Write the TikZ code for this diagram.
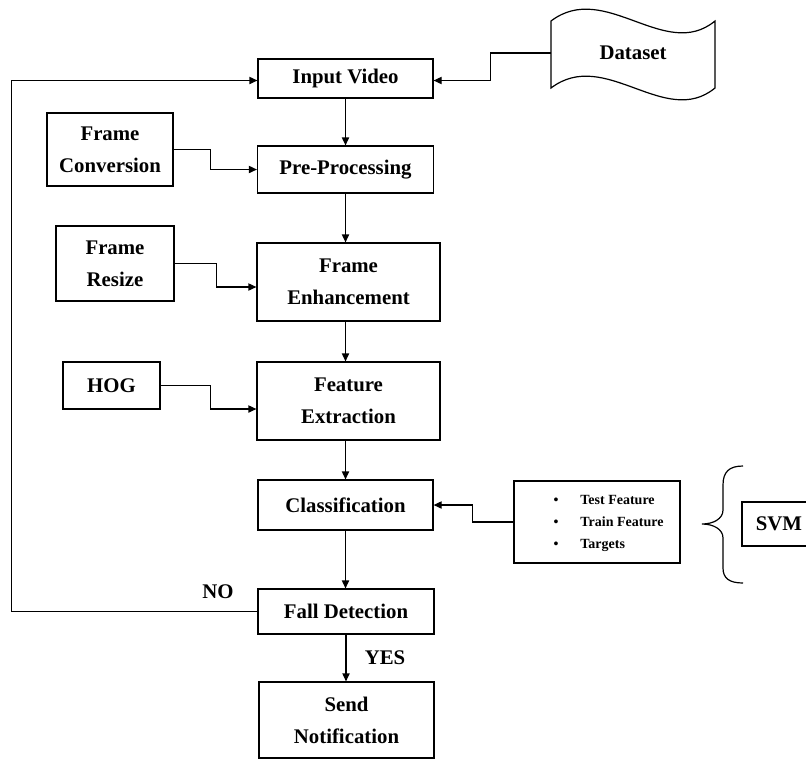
\documentclass[tikz,border=0pt]{standalone}
\usepackage{fontspec}
\setmainfont{Liberation Serif}
\usepackage{tikz}
\usetikzlibrary{arrows.meta}
\tikzset{>={Triangle[length=4pt,width=3.6pt]}}
\tikzset{blk/.style={draw, line width=0.6pt, align=center, inner sep=1pt, font=\fontsize{10.4}{16}\selectfont\bfseries},
         lbl/.style={font=\fontsize{10.4}{16}\selectfont\bfseries},
         line/.style={line width=0.6pt}}

\begin{document}
\begin{tikzpicture}[x=0.5pt, y=-0.5pt]
		 \useasboundingbox (0,0) rectangle (806,761);
		 % main column
		 \node[blk, minimum width=87.5pt, minimum height=19.5pt] (InputVideo) at (345.5,78.5) {Input Video};
		 \node[blk, minimum width=88pt, minimum height=23.5pt] (PreProc) at (345.5,169.5) {Pre-Processing};
		 \node[blk, minimum width=91.5pt, minimum height=39pt] (FrameEnh) at (348.5,282) {Frame\\Enhancement};
		 \node[blk, minimum width=91.5pt, minimum height=39pt] (FeatExt) at (348.5,401) {Feature\\Extraction};
		 \node[blk, minimum width=87.5pt, minimum height=25pt] (Classif) at (345.5,505) {Classification};
		 \node[blk, minimum width=88pt, minimum height=22.5pt] (FallDet) at (346,611.5) {Fall Detection};
		 \node[blk, minimum width=87.5pt, minimum height=38pt] (SendNotif) at (346.5,720) {Send\\Notification};
		 
		 % side inputs
		 \node[blk, minimum width=63pt, minimum height=36.5pt] (FrameConv) at (110,149.5) {Frame\\Conversion};
		 \node[blk, minimum width=59pt, minimum height=37.5pt] (FrameResize) at (115,263.5) {Frame\\Resize};
		 \node[blk, minimum width=48.5pt, minimum height=23.5pt] (HOG) at (111.5,385.5) {HOG};
		 \node[blk, minimum width=83pt, minimum height=41pt, font=\fontsize{7}{11}\selectfont\bfseries] (feat) at (597,522)
		   {\begin{tabular}{@{\hspace{11.5pt}}l@{\hspace{11pt}}l@{}}\textbullet & Test Feature\\ \textbullet & Train Feature\\ \textbullet & Targets\end{tabular}};
		 \node[blk, minimum width=37pt, minimum height=22pt] (SVM) at (779,524) {SVM};
		 
		 % dataset (wavy)
		 \draw[line] (551,21) .. controls (605,-20) and (665,62) .. (715,21) -- (715,88) .. controls (665,129) and (605,47) .. (551,88) -- cycle;
		 \node[lbl, minimum width=82pt, minimum height=33.5pt] (data) at (633,53) {Dataset};
		 
		 % brace
		 \draw[line] (743,466) .. controls (729,466) and (723,472) .. (723,485) -- (723,510) .. controls (723,519) and (713,524) .. (702,524)
		   .. controls (713,524) and (723,529) .. (723,538) -- (723,568) .. controls (723,578) and (729,583) .. (743,583);
		 
		 % flow
		 \draw[->,line] (InputVideo.south) -- (InputVideo.south |- PreProc.north);
		 \draw[->,line] (PreProc.south) -- (PreProc.south |- FrameEnh.north);
		 \draw[->,line] (FrameEnh.south -| Classif.north) -- (FeatExt.north -| Classif.north);
		 \draw[->,line] (FeatExt.south -| Classif.north) -- (Classif.north);
		 \draw[->,line] (Classif.south) -- (Classif.south |- FallDet.north);
		 \draw[->,line] (FallDet.south) -- (FallDet.south |- SendNotif.north);
		 
		 \draw[->,line] (FrameConv.east) -- ++(37,0) |- (PreProc.west);
		 \draw[->,line] (FrameResize.east) -- ++(42,0) |- ([yshift=-2.5pt]FrameEnh.west);
		 \draw[->,line] (HOG.east) -- ++(50,0) |- ([yshift=-4pt]FeatExt.west);
		 \draw[->,line] (feat.west) -- ++(-41,0) |- (Classif.east);
		 \draw[->,line] (data.west) -- ++(-60,0) |- ([yshift=-1pt]InputVideo.east);
		 \draw[->,line] (FallDet.west) -- ++(-246,0) |- ([yshift=-1pt]InputVideo.west);
		 
		 \node[lbl] (no) at (218,592) {NO};
		 \node[lbl] (yes) at (385,658) {YES};
		\end{tikzpicture}
\end{document}
